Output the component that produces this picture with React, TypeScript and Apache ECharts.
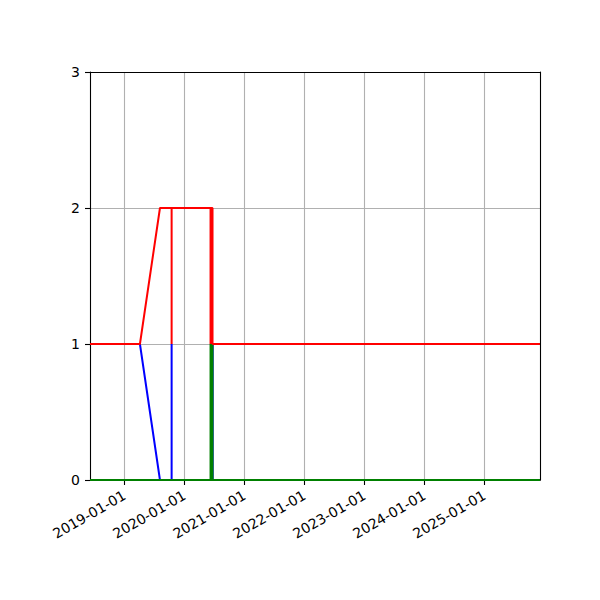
import { useEffect, useRef } from 'react';
import * as echarts from 'echarts';

// x range of the axes
const xStart = '2018-06-05';
const xEnd = '2025-12-05';

// yearly ticks on the x axis
const yearTicks = [
  '2019-01-01',
  '2020-01-01',
  '2021-01-01',
  '2022-01-01',
  '2023-01-01',
  '2024-01-01',
  '2025-01-01',
];
const yTicks = [0, 1, 2, 3];

// blue series
const blueDates = [xStart, '2019-04-05', '2019-08-05', '2019-10-15', '2019-10-15', '2019-10-15', '2020-06-21', '2020-06-21', '2020-06-21', xEnd];
const blueValues = [1, 1, 0, 0, 1, 0, 0, 1, 0, 0];

// green series
const greenDates = [xStart, '2020-06-08', '2020-06-08', '2020-06-08', '2020-06-20', '2020-06-20', '2020-06-20', xEnd];
const greenValues = [0, 0, 1, 0, 0, 1, 0, 0];

// red series
const redDates = [xStart, '2019-04-05', '2019-08-05', '2019-10-15', '2019-10-15', '2019-10-15', '2020-06-08', '2020-06-08', '2020-06-08', '2020-06-20', '2020-06-20', xEnd];
const redValues = [1, 1, 2, 2, 1, 2, 2, 1, 2, 2, 1, 1];

const ts = (d: string) => Date.parse(d + 'T00:00:00Z');
const pairs = (dates: string[], values: number[]) => dates.map((d, i) => [ts(d), values[i]]);
const fmt = (v: number) => new Date(v).toISOString().slice(0, 10);

export default function App() {
  const chartRef = useRef<HTMLDivElement>(null);

  useEffect(() => {
    if (!chartRef.current) return;
    const chart = echarts.init(chartRef.current, null, { renderer: 'svg' });
    const tickValues = yearTicks.map(ts);

    chart.setOption({
      animation: false,
      backgroundColor: '#fff',
      textStyle: { fontFamily: 'DejaVu Sans' },
      grid: { left: 90, top: 72, width: 450, height: 408, containLabel: false },
      xAxis: [
        {
          type: 'value',
          min: ts(xStart),
          max: ts(xEnd),
          axisLine: { show: true, onZero: false, lineStyle: { color: '#000', width: 1.1 } },
          axisTick: { show: true, length: 5, lineStyle: { color: '#000', width: 1.1 }, customValues: tickValues },
          axisLabel: {
            customValues: tickValues,
            formatter: (v: number) => fmt(v),
            rotate: 30,
            margin: 14,
            color: '#000',
            fontSize: 14,
            fontFamily: 'DejaVu Sans',
            hideOverlap: false,
          },
          splitLine: { show: true, lineStyle: { color: '#b0b0b0', width: 1.1 } },
        },
        {
          type: 'value',
          position: 'top',
          min: ts(xStart),
          max: ts(xEnd),
          z: 10,
          axisLine: { show: true, onZero: false, lineStyle: { color: '#000', width: 1.1 } },
          axisTick: { show: false },
          axisLabel: { show: false },
          splitLine: { show: false },
        },
      ],
      yAxis: [
        {
          type: 'value',
          min: 0,
          max: 3,
          interval: 1,
          axisLine: { show: true, onZero: false, lineStyle: { color: '#000', width: 1.1 } },
          axisTick: { show: true, length: 5, lineStyle: { color: '#000', width: 1.1 } },
          axisLabel: {
            formatter: (v: number) => (yTicks.includes(v) ? String(v) : ''),
            margin: 10,
            color: '#000',
            fontSize: 14,
            fontFamily: 'DejaVu Sans',
          },
          splitLine: { show: true, lineStyle: { color: '#b0b0b0', width: 1.1 } },
        },
        {
          type: 'value',
          position: 'right',
          min: 0,
          max: 3,
          z: 10,
          axisLine: { show: true, onZero: false, lineStyle: { color: '#000', width: 1.1 } },
          axisTick: { show: false },
          axisLabel: { show: false },
          splitLine: { show: false },
        },
      ],
      series: [
        {
          type: 'line',
          data: pairs(blueDates, blueValues),
          showSymbol: false,
          lineStyle: { color: '#0000ff', width: 2 },
          itemStyle: { color: '#0000ff' },
        },
        {
          type: 'line',
          data: pairs(greenDates, greenValues),
          showSymbol: false,
          lineStyle: { color: '#008000', width: 2 },
          itemStyle: { color: '#008000' },
        },
        {
          type: 'line',
          data: pairs(redDates, redValues),
          showSymbol: false,
          lineStyle: { color: '#ff0000', width: 2 },
          itemStyle: { color: '#ff0000' },
        },
      ],
    });

    return () => {
      chart.dispose();
    };
  }, []);

  return (
    <div
      ref={chartRef}
      style={{ position: 'absolute', left: 0, top: 0, width: '600px', height: '600px' }}
    />
  );
}
